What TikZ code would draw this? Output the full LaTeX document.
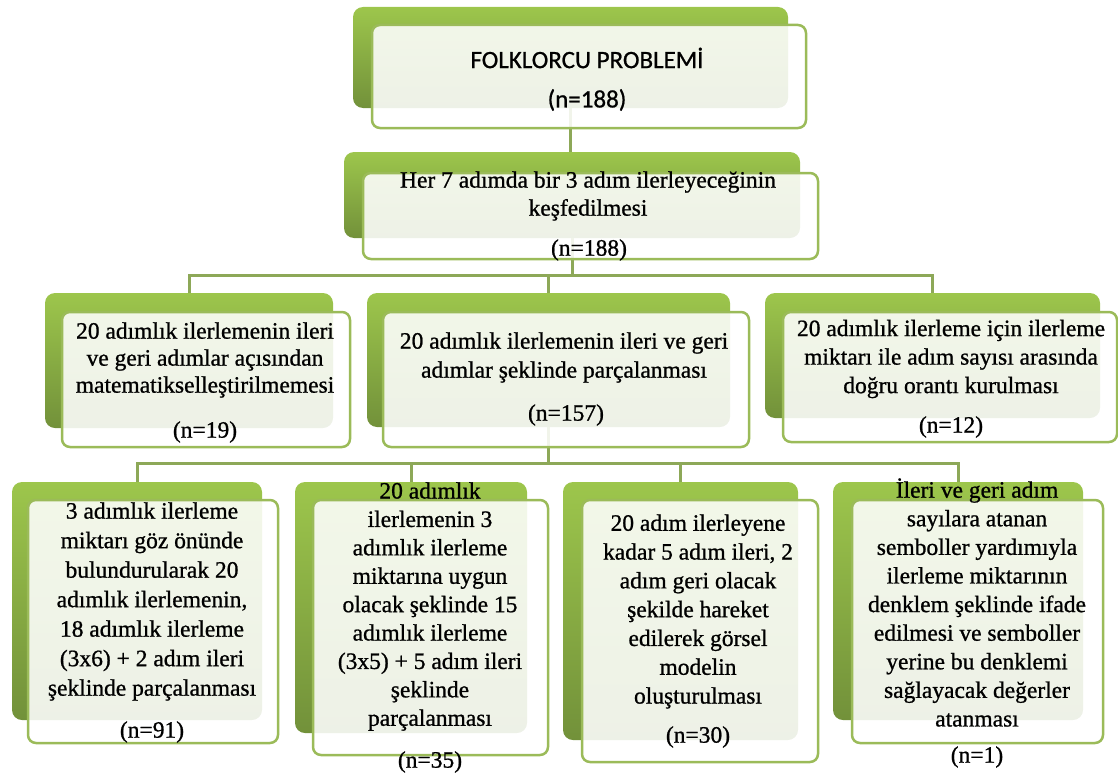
\documentclass[tikz,border=0pt]{standalone}
\usepackage{fontspec}
\setmainfont{Liberation Serif}
\newfontfamily\cardfont{Liberation Serif}[FakeBold=0.9]
\newfontfamily\titlefont{Carlito}[FakeBold=0.8]
\usetikzlibrary{fit}

\definecolor{leafTop}{HTML}{9DC64C}
\definecolor{leafBot}{HTML}{72913A}
\definecolor{rim}{HTML}{9BBB59}
\definecolor{wire}{HTML}{8DA858}

\tikzset{
  backbox/.style={rectangle, rounded corners=10pt, top color=leafTop, bottom color=leafBot,
    draw=none, inner sep=0pt, outer sep=0pt},
  frontbox/.style={rectangle, rounded corners=8pt, draw=rim, line width=2.5pt,
    fill=white, fill opacity=0.88, inner sep=0pt, outer sep=0pt},
  wire/.style={draw=wire, line width=3pt},
  body/.style={inner sep=0pt, align=center, font=\cardfont\fontsize{23.5}{#1}\selectfont},
  body/.default=28.5,
  title/.style={inner sep=0pt, align=center, font=\titlefont\fontsize{25}{30}\selectfont},
}

\begin{document}
\begin{tikzpicture}[x=1pt, y=-1pt]
\useasboundingbox (0,0) rectangle (1118,776);

% green back plates
\node[backbox, fit={(353,7) (788,108)}] (b0) {};
\node[backbox, fit={(344,152) (800,238)}] (b1) {};
\node[backbox, fit={(45,293) (333,428)}] (b2a) {};
\node[backbox, fit={(367,293) (730,427)}] (b2b) {};
\node[backbox, fit={(765,293) (1100,418)}] (b2c) {};
\node[backbox, fit={(12,482) (262,720)}] (b3a) {};
\node[backbox, fit={(295,482) (527,733)}] (b3b) {};
\node[backbox, fit={(563,482) (798,740)}] (b3c) {};
\node[backbox, fit={(833,482) (1083,720)}] (b3d) {};

% bus levels
\coordinate (bus1) at (0,275);
\coordinate (bus2) at (0,463);

% connectors
\draw[wire] (b0.south) -- (b0.south |- b1.north);
\draw[wire] (b1.south) -- (b1.south |- bus1);
\draw[wire] (b2a.north) |- (b2c.north |- bus1) -- (b2c.north);
\draw[wire] (b2b.north) -- (b2b.north |- bus1);
\draw[wire] (b2b.south) -- (b2b.south |- bus2);
\draw[wire] (b3a.north) |- (b3d.north |- bus2) -- (b3d.north);
\draw[wire] (b3b.north) -- (b3b.north |- bus2);
\draw[wire] (b3c.north) -- (b3c.north |- bus2);

% translucent front cards
\node[frontbox, fit={(372,25) (806,128)}] (f0) {};
\node[frontbox, fit={(363,173) (818,259)}] (f1) {};
\node[frontbox, fit={(62,312) (350,447)}] (f2a) {};
\node[frontbox, fit={(383,312) (749,447)}] (f2b) {};
\node[frontbox, fit={(783,312) (1117,442)}] (f2c) {};
\node[frontbox, fit={(28,500) (278,743)}] (f3a) {};
\node[frontbox, fit={(313,500) (548,755)}] (f3b) {};
\node[frontbox, fit={(582,500) (818,762)}] (f3c) {};
\node[frontbox, fit={(852,500) (1103,743)}] (f3d) {};

% texts
\node[title] (t0) at (587,58) {FOLKLORCU PROBLEMİ};
\node[title] (n0) at (587,100) {(n=188)};

\node[body=28] (t1) at (588,196) {Her 7 adımda bir 3 adım ilerleyeceğinin\\keşfedilmesi};
\node[body] (n1) at (589,250) {(n=188)};

\node[body=27] (t2a) at (205,360) {20 adımlık ilerlemenin ileri\\ve geri adımlar açısından\\matematikselleştirilmemesi};
\node[body] (n2a) at (205,432) {(n=19)};

\node[body=29] (t2b) at (564,357.5) {20 adımlık ilerlemenin ileri ve geri\\adımlar şeklinde parçalanması};
\node[body] (n2b) at (566,415) {(n=157)};

\node[body=28.5] (t2c) at (951,359) {20 adımlık ilerleme için ilerleme\\miktarı ile adım sayısı arasında\\doğru orantı kurulması};
\node[body] (n2c) at (951,427) {(n=12)};

\node[body=29.5] (t3a) at (152,601.5) {3 adımlık ilerleme\\miktarı göz önünde\\bulundurularak 20\\adımlık ilerlemenin,\\18 adımlık ilerleme\\(3x6) + 2 adım ileri\\şeklinde parçalanması};
\node[body] (n3a) at (152,732) {(n=91)};

\node[body=28.4] (t3b) at (430,606.5) {20 adımlık\\ilerlemenin 3\\adımlık ilerleme\\miktarına uygun\\olacak şeklinde 15\\adımlık ilerleme\\(3x5) + 5 adım ileri\\şeklinde\\parçalanması};
\node[body] (n3b) at (430,762) {(n=35)};

\node[body=28.8] (t3c) at (698,611.5) {20 adım ilerleyene\\kadar 5 adım ileri, 2\\adım geri olacak\\şekilde hareket\\edilerek görsel\\modelin\\oluşturulması};
\node[body] (n3c) at (698,737) {(n=30)};

\node[body=28.6] (t3d) at (977,602.5) {İleri ve geri adım\\sayılara atanan\\semboller yardımıyla\\ilerleme miktarının\\denklem şeklinde ifade\\edilmesi ve semboller\\yerine bu denklemi\\sağlayacak değerler\\atanması};
\node[body] (n3d) at (977,757) {(n=1)};
\end{tikzpicture}
\end{document}
